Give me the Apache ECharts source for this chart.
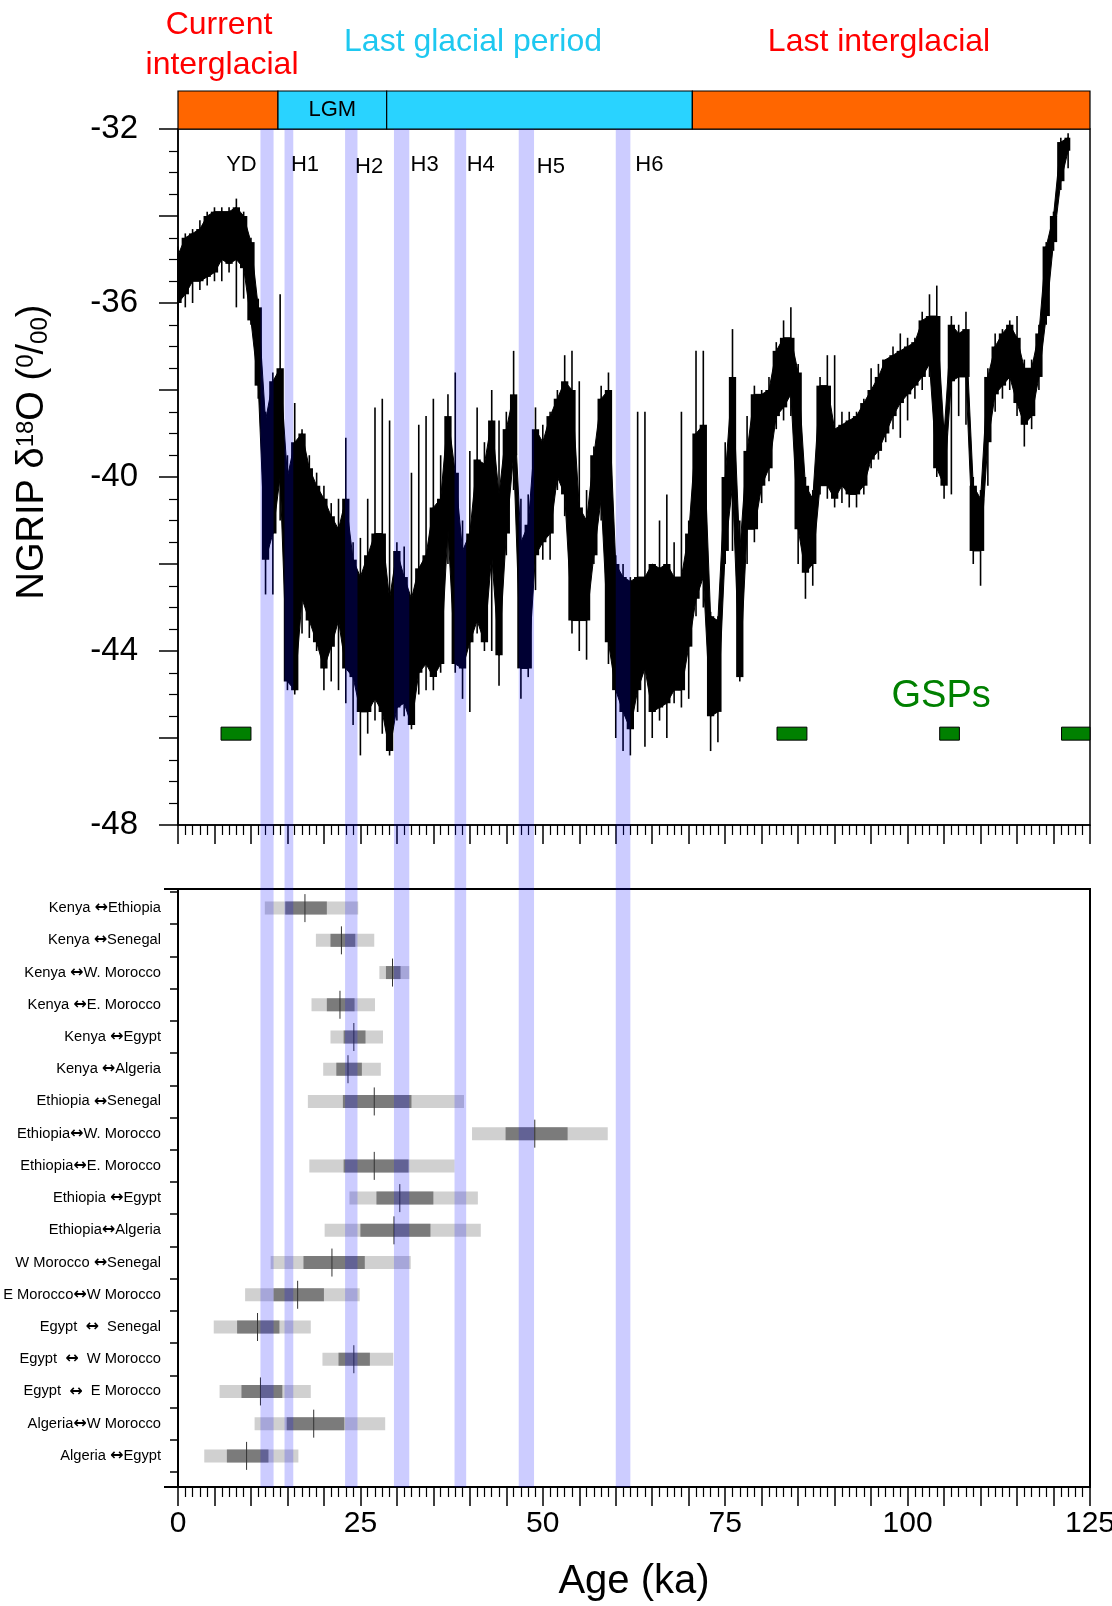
<!DOCTYPE html>
<html>
<head>
<meta charset="utf-8">
<title>NGRIP d18O and divergence times</title>
<script src="https://cdn.jsdelivr.net/npm/echarts@6/dist/echarts.min.js"></script>
<style>
html, body { margin: 0; padding: 0; background: #fff; }
#container { width: 1112px; height: 1606px; }
</style>
</head>
<body>
<div id="container"></div>
<script>
var ngripAge = [0,1,2,3,4,5,6,7,8,9,10,11,12,13,14,15,16,17,18,19,20,21,22,23,24,25,26,27,28,29,
  30,31,32,33,34,35,36,37,38,39,40,41,42,43,44,45,46,47,48,49,50,51,52,53,54,55,56,57,58,59,
  60,61,62,63,64,65,66,67,68,69,70,71,72,73,74,75,76,77,78,79,80,81,82,83,84,85,86,87,88,89,
  90,91,92,93,94,95,96,97,98,99,100,101,102,103,104,105,106,107,108,109,110,111,112,113,114,115,116,117,118,119,
  120,121,122];
var ngripTop = [
  -34.9,-34.5,-34.4,-34.3,-34.0,-33.9,-33.9,-33.9,-33.8,-34.0,
  -34.6,-36.1,-38.7,-37.8,-37.5,-40.0,-39.2,-39.0,-39.8,-40.2,
  -40.5,-40.9,-41.2,-40.5,-41.9,-42.3,-41.8,-41.3,-41.3,-42.8,
  -41.7,-42.3,-42.8,-42.1,-41.8,-40.7,-40.5,-38.6,-39.9,-41.7,
  -41.3,-39.6,-39.7,-38.7,-40.4,-38.9,-38.1,-41.5,-41.1,-38.9,
  -39.2,-38.6,-38.2,-37.8,-38.0,-40.7,-41.0,-39.5,-38.2,-38.0,
  -42.0,-42.3,-42.4,-42.3,-42.3,-42.0,-42.1,-42.0,-42.3,-42.3,
  -41.3,-39.0,-38.8,-43.2,-43.3,-40.0,-37.7,-41.7,-39.4,-38.1,
  -38.1,-38.0,-37.1,-36.8,-36.8,-37.6,-40.2,-40.5,-37.9,-37.9,
  -38.9,-38.8,-38.7,-38.6,-38.3,-38.0,-37.7,-37.3,-37.2,-37.1,
  -37.0,-36.9,-36.4,-36.3,-36.3,-39.0,-36.5,-36.7,-36.6,-40.2,
  -40.5,-37.7,-37.0,-36.7,-36.5,-36.8,-37.5,-37.5,-36.7,-34.7,
  -34.0,-32.3,-32.2];
var ngripBot = [
  -36.0,-35.8,-35.5,-35.5,-35.4,-35.3,-35.0,-35.1,-35.0,-35.2,
  -36.4,-37.9,-41.9,-41.3,-40.0,-44.7,-44.9,-42.8,-43.3,-43.8,
  -44.4,-43.9,-43.3,-44.4,-44.6,-45.4,-45.4,-45.1,-45.4,-46.3,
  -45.3,-45.2,-45.7,-44.5,-44.3,-44.6,-44.3,-41.2,-44.3,-44.4,
  -43.8,-43.3,-43.8,-41.8,-44.1,-41.3,-39.5,-44.4,-44.4,-41.8,
  -41.5,-41.3,-40.0,-40.4,-43.3,-43.3,-43.3,-41.8,-40.5,-43.8,
  -44.9,-45.4,-45.8,-44.9,-44.4,-45.4,-45.3,-45.2,-44.9,-44.9,
  -43.9,-42.8,-42.3,-45.5,-45.4,-41.7,-40.2,-44.6,-41.2,-41.2,
  -40.2,-39.8,-38.6,-38.4,-38.1,-41.2,-42.2,-42.0,-40.2,-40.2,
  -40.5,-40.2,-40.4,-40.4,-40.2,-39.6,-39.4,-39.0,-38.6,-38.3,
  -38.1,-37.9,-37.7,-37.4,-39.8,-40.2,-37.8,-37.7,-37.7,-41.7,
  -41.7,-39.2,-38.1,-37.9,-37.7,-38.3,-38.8,-38.6,-37.7,-36.3,
  -34.6,-33.2,-32.5];
var ngripHi = [
  -34.7,-34.4,-34.3,-34.1,-33.9,-33.8,-33.8,-33.8,-33.6,-33.9,
  -34.5,-35.9,-38.5,-37.6,-35.8,-39.5,-38.3,-38.9,-39.5,-39.9,
  -40.2,-40.6,-40.5,-39.1,-41.5,-41.4,-40.5,-38.4,-38.2,-38.7,
  -41.5,-41.6,-39.9,-38.8,-38.6,-38.2,-39.5,-38.1,-37.6,-41.0,
  -39.4,-38.4,-39.2,-38.0,-38.7,-38.5,-37.1,-40.5,-40.4,-38.4,
  -38.8,-38.5,-38.0,-37.2,-37.1,-37.8,-40.3,-39.3,-37.9,-37.6,
  -41.8,-42.0,-42.3,-38.5,-38.5,-42.0,-41.0,-40.4,-41.5,-38.5,
  -41.0,-37.1,-37.1,-43.1,-43.2,-39.2,-36.6,-41.0,-38.6,-37.9,
  -38.0,-37.7,-36.9,-36.4,-36.1,-37.4,-40.0,-40.3,-37.7,-37.2,
  -37.2,-38.5,-38.5,-38.5,-38.2,-37.5,-37.4,-37.3,-37.0,-36.7,
  -36.8,-36.8,-36.2,-35.8,-35.6,-38.8,-36.3,-36.5,-36.2,-40.0,
  -40.3,-37.5,-36.7,-36.6,-36.4,-36.3,-37.3,-37.3,-36.5,-34.6,
  -33.9,-32.2,-32.1];
var ngripLo = [
  -36.4,-36.1,-36.0,-35.7,-35.6,-35.5,-35.5,-35.3,-36.1,-35.9,
  -36.5,-38.2,-42.7,-42.7,-41.0,-44.9,-45.0,-43.6,-43.7,-44.0,
  -44.9,-44.7,-44.9,-45.2,-45.7,-46.4,-45.9,-45.6,-45.9,-46.4,
  -45.6,-45.5,-45.8,-45.0,-44.9,-44.9,-44.5,-42.0,-44.5,-45.1,
  -45.4,-43.6,-44.0,-44.0,-44.8,-41.8,-40.3,-45.1,-44.6,-42.6,
  -41.9,-41.9,-40.3,-40.9,-43.6,-44.0,-44.2,-42.0,-41.0,-44.3,
  -46.0,-46.3,-46.4,-45.4,-46.2,-46.0,-45.6,-46.0,-45.2,-45.3,
  -45.1,-43.2,-43.0,-46.3,-46.1,-42.0,-41.7,-44.7,-42.0,-41.5,
  -40.6,-40.1,-38.9,-38.7,-38.6,-42.0,-42.8,-42.5,-40.4,-40.5,
  -40.7,-40.6,-40.7,-40.7,-40.4,-39.8,-39.6,-39.2,-38.9,-39.1,
  -38.7,-38.2,-38.0,-37.7,-40.0,-40.5,-40.4,-38.6,-38.8,-42.0,
  -42.5,-40.2,-38.5,-38.2,-38.0,-38.6,-39.3,-38.9,-38.0,-36.5,
  -34.8,-33.4,-32.9];

// climate periods (top bar)
var periodStart = [0, 13.7, 28.6, 70.5];
var periodEnd = [13.7, 28.6, 70.5, 125];
var periodLabel = ['', 'LGM', '', ''];
var periodColor = ['#ff6600', '#29d3ff', '#29d3ff', '#ff6600'];

// Younger Dryas and Heinrich events
var eventName = ['YD', 'H1', 'H2', 'H3', 'H4', 'H5', 'H6'];
var eventStart = [11.3, 14.6, 22.9, 29.6, 37.9, 46.7, 60.0];
var eventEnd = [13.1, 15.8, 24.6, 31.7, 39.5, 48.8, 62.0];
var eventLabelAge = [8.7, 17.4, 26.2, 33.8, 41.5, 51.1, 64.6];
var eventLabelY = [-32.83, -32.83, -32.87, -32.83, -32.83, -32.87, -32.83];

// GSPs
var gspStart = [5.9, 82.1, 104.4, 121.1];
var gspEnd = [10.0, 86.2, 107.1, 125.0];
var gspLevel = -45.9;
var gspLabelAge = 104.6, gspLabelY = -45.04;

// divergence times between populations (ka)
var pairNames = [
  'Kenya \u2194Ethiopia', 'Kenya \u2194Senegal', 'Kenya \u2194W. Morocco', 'Kenya \u2194E. Morocco',
  'Kenya \u2194Egypt', 'Kenya \u2194Algeria', 'Ethiopia \u2194Senegal', 'Ethiopia\u2194W. Morocco',
  'Ethiopia\u2194E. Morocco', 'Ethiopia \u2194Egypt', 'Ethiopia\u2194Algeria', 'W Morocco \u2194Senegal',
  'E Morocco\u2194W Morocco', 'Egypt  \u2194  Senegal', 'Egypt  \u2194  W Morocco', 'Egypt  \u2194  E Morocco',
  'Algeria\u2194W Morocco', 'Algeria \u2194Egypt'];
var outerLo = [11.9, 18.9, 27.6, 18.3, 20.9, 19.9, 17.8, 40.3, 18.0, 23.5, 20.1, 12.7, 9.2, 4.9, 19.8, 5.7, 10.5, 3.6];
var outerHi = [24.7, 26.9, 31.7, 27.0, 28.1, 27.8, 39.2, 58.9, 37.9, 41.1, 41.5, 31.9, 24.9, 18.2, 29.5, 18.2, 28.4, 16.5];
var innerLo = [14.7, 20.9, 28.5, 20.4, 22.7, 21.7, 22.6, 44.9, 22.7, 27.2, 25.0, 17.2, 13.1, 8.1, 22.0, 8.7, 14.9, 6.7];
var innerHi = [20.4, 24.3, 30.5, 24.2, 25.7, 25.2, 32.0, 53.4, 31.6, 35.0, 34.6, 25.6, 20.0, 13.9, 26.3, 14.3, 22.8, 12.4];
var midAge = [17.4, 22.4, 29.4, 22.2, 24.1, 23.3, 26.9, 48.9, 26.9, 30.4, 29.6, 21.1, 16.4, 10.9, 24.1, 11.3, 18.6, 9.4];

var FONT = "'Liberation Sans', Arial, sans-serif";

var dom = document.getElementById('container');
var myChart = echarts.init(dom);

//NGRIP trace: filled core (linked to next sample + a 1 ka step) and a spike line per sample
function ngripItem(params, api) {
    var i = params.dataIndex;
    var kids = [];
    var t = ngripAge[i];
    if (i < ngripAge.length - 1) {
        var a = api.coord([t, ngripTop[i]]);
        var b = api.coord([ngripAge[i + 1], ngripTop[i + 1]]);
        var c = api.coord([ngripAge[i + 1], ngripBot[i + 1]]);
        var d = api.coord([t, ngripBot[i]]);
        kids.push({type: 'polygon', shape: {points: [a, b, c, d]}, style: {fill: '#000', stroke: '#000', lineWidth: 1}});
    }
    var s0 = api.coord([Math.max(0, t - 0.5), ngripTop[i]]);
    var s1 = api.coord([t + 0.5, ngripBot[i]]);
    if (i === ngripAge.length - 1) s1 = api.coord([t + 0.3, ngripBot[i]]);
    kids.push({type: 'rect', shape: {x: s0[0], y: s0[1], width: s1[0] - s0[0], height: s1[1] - s0[1]}, style: {fill: '#000'}});
    var h = api.coord([t, ngripHi[i]]);
    var l = api.coord([t, ngripLo[i]]);
    kids.push({type: 'line', shape: {x1: h[0], y1: h[1], x2: l[0], y2: l[1]}, style: {stroke: '#000', lineWidth: 1.6}});
    return {type: 'group', children: kids};
}

function gspItem(params, api) {
    var p0 = api.coord([api.value(0), api.value(2)]);
    var p1 = api.coord([api.value(1), api.value(2)]);
    return {type: 'rect', shape: {x: p0[0], y: p0[1] - 6.5, width: p1[0] - p0[0], height: 13},
        style: {fill: '#008000', stroke: '#000', lineWidth: 1}};
}

function periodItem(params, api) {
    var i = params.dataIndex;
    var p0 = api.coord([api.value(0), 1]);
    var p1 = api.coord([api.value(1), 0]);
    return {
        type: 'rect',
        shape: {x: p0[0], y: p0[1], width: p1[0] - p0[0], height: p1[1] - p0[1]},
        style: {fill: periodColor[i], stroke: '#000', lineWidth: 1.2},
        textContent: {style: {text: periodLabel[i], fontSize: 22, fontFamily: FONT, fill: '#000'}},
        textConfig: {position: 'inside'}
    };
}

function eventItem(params, api) {
    var p0 = api.coord([api.value(0), 1]);
    var p1 = api.coord([api.value(1), 0]);
    return {type: 'rect', shape: {x: p0[0], y: p0[1], width: p1[0] - p0[0], height: p1[1] - p0[1]},
        style: {fill: 'rgba(0,0,255,0.2)'}};
}

function makeTextItem(names, size, color) {
    return function (params, api) {
        var p = api.coord([api.value(0), api.value(1)]);
        return {type: 'text', x: p[0], y: p[1],
            style: {text: names[params.dataIndex], fill: color, fontSize: size, fontFamily: FONT,
                align: 'center', verticalAlign: 'middle'}};
    };
}

function pairItem(params, api) {
    var row = api.value(1);
    var o0 = api.coord([api.value(0), row]);
    var o1 = api.coord([api.value(2), row]);
    var c0 = api.coord([api.value(3), row]);
    var c1 = api.coord([api.value(4), row]);
    var m = api.coord([api.value(5), row]);
    return {type: 'group', children: [
        {type: 'rect', shape: {x: o0[0], y: o0[1] - 6.5, width: o1[0] - o0[0], height: 13}, style: {fill: '#d0d0d0'}},
        {type: 'rect', shape: {x: c0[0], y: c0[1] - 6.5, width: c1[0] - c0[0], height: 13}, style: {fill: '#7b7b7b'}},
        {type: 'line', shape: {x1: m[0], y1: m[1] - 14, x2: m[0], y2: m[1] + 14}, style: {stroke: '#333', lineWidth: 1}}
    ]};
}

var blackLine = {color: '#000', width: 1.5};

option = {
    animation: false,
    backgroundColor: '#fff',
    textStyle: {fontFamily: FONT},
    grid: [
        {left: 178, top: 129, width: 912, height: 696, show: true, borderColor: '#000', borderWidth: 1.5, outerBoundsMode: 'none'},
        {left: 178, top: 889, width: 912, height: 598, show: true, borderColor: '#000', borderWidth: 2, outerBoundsMode: 'none'},
        {left: 178, top: 91, width: 912, height: 38, outerBoundsMode: 'none'},
        {left: 178, top: 129, width: 912, height: 1358, outerBoundsMode: 'none'},
        {left: 178, top: 892, width: 912, height: 580, outerBoundsMode: 'none'}
    ],
    xAxis: [
        {
            gridIndex: 0, type: 'value', min: 0, max: 125, interval: 5,
            axisLine: {onZero: false, lineStyle: blackLine},
            axisTick: {length: 19, lineStyle: blackLine},
            minorTick: {show: true, splitNumber: 5, length: 10, lineStyle: {color: '#000', width: 1.2}},
            axisLabel: {show: false},
            splitLine: {show: false}
        },
        {
            gridIndex: 1, type: 'value', min: 0, max: 125, interval: 5,
            axisLine: {onZero: false, lineStyle: {color: '#000', width: 2}},
            axisTick: {length: 19, lineStyle: blackLine},
            minorTick: {show: true, splitNumber: 5, length: 10, lineStyle: {color: '#000', width: 1.2}},
            axisLabel: {
                color: '#000', fontSize: 30, margin: 22,
                formatter: function (v) { return v % 25 === 0 ? String(v) : ''; }
            },
            splitLine: {show: false},
            name: 'Age (ka)', nameLocation: 'middle', nameGap: 75,
            nameTextStyle: {color: '#000', fontSize: 40}
        },
        {gridIndex: 2, type: 'value', min: 0, max: 125, show: false},
        {gridIndex: 3, type: 'value', min: 0, max: 125, show: false},
        {gridIndex: 4, type: 'value', min: 0, max: 125, show: false}
    ],
    yAxis: [
        {
            gridIndex: 0, type: 'value', min: -48, max: -32, interval: 2, position: 'left',
            axisLine: {onZero: false, lineStyle: blackLine},
            axisTick: {length: 19, lineStyle: blackLine},
            minorTick: {show: true, splitNumber: 4, length: 9, lineStyle: {color: '#000', width: 1.2}},
            axisLabel: {
                color: '#000', fontSize: 33, margin: 40,
                formatter: function (v) { return v % 4 === 0 ? String(v) : ''; }
            },
            splitLine: {show: false},
            name: 'NGRIP \u03b4{sup|18}O ({sup|0}/{sub|00})',
            nameLocation: 'middle', nameGap: 126, nameRotate: 90,
            nameTextStyle: {
                color: '#000', fontSize: 38, padding: [0, 0, 0, 50],
                rich: {
                    sup: {fontSize: 24, verticalAlign: 'top', color: '#000'},
                    sub: {fontSize: 24, verticalAlign: 'bottom', color: '#000'}
                }
            }
        },
        {
            gridIndex: 1, type: 'value', min: 0, max: 1, interval: 1, position: 'left',
            axisLine: {onZero: false, lineStyle: {color: '#000', width: 2}},
            axisTick: {show: true, length: 14, lineStyle: {color: '#000', width: 2}},
            axisLabel: {show: false},
            splitLine: {show: false}
        },
        {gridIndex: 2, type: 'value', min: 0, max: 1, show: false},
        {gridIndex: 3, type: 'value', min: 0, max: 1, show: false},
        {
            gridIndex: 4, type: 'category', inverse: true, data: pairNames, position: 'left',
            axisLine: {show: false},
            axisTick: {show: true, length: 8, lineStyle: {color: '#000', width: 1.5}},
            axisLabel: {
                color: '#000', fontSize: 14.7, margin: 17,
                formatter: function (v) { return v.replace('\u2194', '{a|\u2194}'); },
                rich: {a: {fontFamily: 'DejaVu Sans', fontWeight: 'bold', fontSize: 16, color: '#000'}}
            },
            splitLine: {show: false}
        }
    ],
    graphic: [
        {type: 'text', x: 219, y: 25, style: {text: 'Current', fill: '#ff0000', fontSize: 32, fontFamily: FONT, align: 'center', verticalAlign: 'middle'}},
        {type: 'text', x: 222, y: 65, style: {text: 'interglacial', fill: '#ff0000', fontSize: 32, fontFamily: FONT, align: 'center', verticalAlign: 'middle'}},
        {type: 'text', x: 473, y: 42, style: {text: 'Last glacial period', fill: '#1ec8f0', fontSize: 32, fontFamily: FONT, align: 'center', verticalAlign: 'middle'}},
        {type: 'text', x: 879, y: 42, style: {text: 'Last interglacial', fill: '#ff0000', fontSize: 32, fontFamily: FONT, align: 'center', verticalAlign: 'middle'}}
    ],
    series: [
        {
            name: 'NGRIP', type: 'custom', xAxisIndex: 0, yAxisIndex: 0, z: 2,
            renderItem: ngripItem,
            encode: {x: 0, y: [1, 2, 3, 4]},
            data: ngripAge.map(function (t, i) { return [t, ngripTop[i], ngripBot[i], ngripHi[i], ngripLo[i]]; })
        },
        {
            name: 'GSPs', type: 'custom', xAxisIndex: 0, yAxisIndex: 0, z: 3,
            renderItem: gspItem,
            encode: {x: [0, 1], y: 2},
            data: gspStart.map(function (s, i) { return [s, gspEnd[i], gspLevel]; })
        },
        {
            name: 'event labels', type: 'custom', xAxisIndex: 0, yAxisIndex: 0, z: 4,
            renderItem: makeTextItem(eventName, 22, '#000'),
            encode: {x: 0, y: 1},
            data: eventName.map(function (n, i) { return [eventLabelAge[i], eventLabelY[i]]; })
        },
        {
            name: 'GSP label', type: 'custom', xAxisIndex: 0, yAxisIndex: 0, z: 4,
            renderItem: makeTextItem(['GSPs'], 38, '#008000'),
            encode: {x: 0, y: 1},
            data: [[gspLabelAge, gspLabelY]]
        },
        {
            name: 'periods', type: 'custom', xAxisIndex: 2, yAxisIndex: 2, z: 3,
            renderItem: periodItem,
            encode: {x: [0, 1]},
            data: periodStart.map(function (s, i) { return [s, periodEnd[i]]; })
        },
        {
            name: 'divergence', type: 'custom', xAxisIndex: 4, yAxisIndex: 4, z: 2,
            renderItem: pairItem,
            encode: {x: [0, 2], y: 1},
            data: pairNames.map(function (n, i) {
                return [outerLo[i], i, outerHi[i], innerLo[i], innerHi[i], midAge[i]];
            })
        },
        {
            name: 'events', type: 'custom', xAxisIndex: 3, yAxisIndex: 3, z: 10,
            renderItem: eventItem,
            encode: {x: [0, 1]},
            data: eventStart.map(function (s, i) { return [s, eventEnd[i]]; })
        }
    ]
};
if (option && typeof option === "object") {
    myChart.setOption(option, true);
}
</script>
</body>
</html>
